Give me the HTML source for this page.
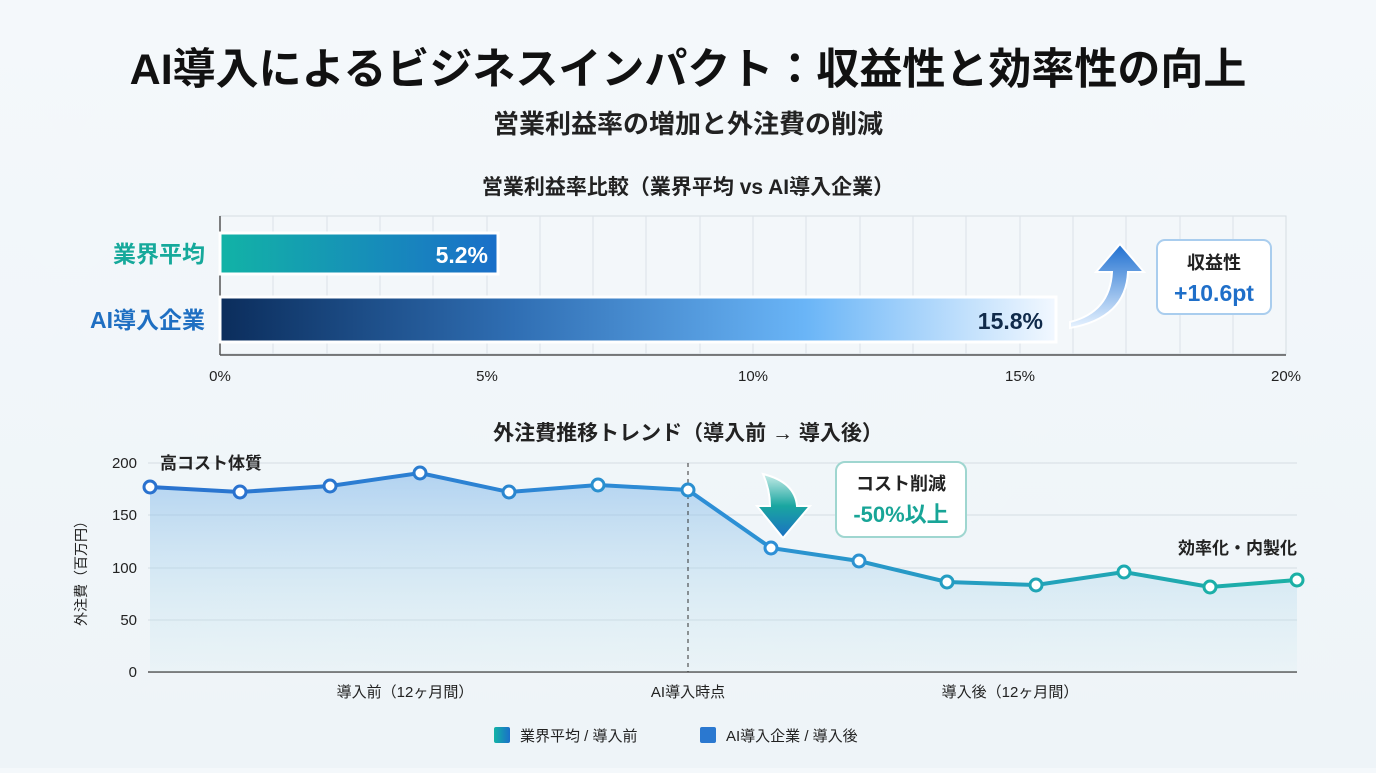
<!DOCTYPE html>
<html><head><meta charset="utf-8">
<style>
body{margin:0;width:1376px;height:768px;overflow:hidden;background:linear-gradient(180deg,#f4f8fb,#eef4f8);font-family:"Liberation Sans","Noto Sans CJK JP",sans-serif;}
</style></head><body>
<svg width="1376" height="768" xmlns="http://www.w3.org/2000/svg" font-family="Liberation Sans, Noto Sans CJK JP, sans-serif">
<defs>
<linearGradient id="g1" x1="0" x2="1"><stop offset="0" stop-color="#12b3a6"/><stop offset="1" stop-color="#1a6fc9"/></linearGradient>
<linearGradient id="g2" x1="0" x2="1"><stop offset="0" stop-color="#0b2d5c"/><stop offset="0.35" stop-color="#2f6eb3"/><stop offset="0.7" stop-color="#6ab5f7"/><stop offset="1" stop-color="#f2f8ff"/></linearGradient>
<linearGradient id="ln" x1="0" x2="1"><stop offset="0" stop-color="#2a72cf"/><stop offset="0.5" stop-color="#2d8fd6"/><stop offset="1" stop-color="#1bb0a5"/></linearGradient>
<linearGradient id="ar" x1="0" x2="1"><stop offset="0" stop-color="#2a72cf"/><stop offset="1" stop-color="#1bb0a5"/></linearGradient>
<linearGradient id="area" x1="0" y1="0" x2="0" y2="1"><stop offset="0" stop-color="#7fb6ea" stop-opacity="0.55"/><stop offset="1" stop-color="#bfe6ea" stop-opacity="0.1"/></linearGradient>
<linearGradient id="up" x1="0" y1="1" x2="0" y2="0"><stop offset="0" stop-color="#e8f3ff"/><stop offset="1" stop-color="#1e6fd0"/></linearGradient>
<linearGradient id="dn" x1="0" y1="0" x2="0" y2="1"><stop offset="0" stop-color="#c8ece8"/><stop offset="0.5" stop-color="#1aa6a0"/><stop offset="1" stop-color="#1b6fc4"/></linearGradient>
</defs>
<text x="688" y="84" text-anchor="middle" font-size="43" font-weight="bold" fill="#111">AI導入によるビジネスインパクト：収益性と効率性の向上</text>
<text x="688" y="133" text-anchor="middle" font-size="26" font-weight="bold" fill="#222">営業利益率の増加と外注費の削減</text>
<text x="688" y="194" text-anchor="middle" font-size="21" font-weight="bold" fill="#222">営業利益率比較（業界平均 vs AI導入企業）</text>
<rect x="220" y="216" width="1066" height="138" fill="#f3f7fa" stroke="#d5dde3"/>
<g stroke="#dbe2e8" stroke-width="1">
<line x1="273" y1="216" x2="273" y2="354"/><line x1="327" y1="216" x2="327" y2="354"/><line x1="380" y1="216" x2="380" y2="354"/><line x1="433" y1="216" x2="433" y2="354"/><line x1="487" y1="216" x2="487" y2="354"/><line x1="540" y1="216" x2="540" y2="354"/><line x1="593" y1="216" x2="593" y2="354"/><line x1="646" y1="216" x2="646" y2="354"/><line x1="700" y1="216" x2="700" y2="354"/><line x1="753" y1="216" x2="753" y2="354"/><line x1="806" y1="216" x2="806" y2="354"/><line x1="860" y1="216" x2="860" y2="354"/><line x1="913" y1="216" x2="913" y2="354"/><line x1="966" y1="216" x2="966" y2="354"/><line x1="1020" y1="216" x2="1020" y2="354"/><line x1="1073" y1="216" x2="1073" y2="354"/><line x1="1126" y1="216" x2="1126" y2="354"/><line x1="1180" y1="216" x2="1180" y2="354"/><line x1="1233" y1="216" x2="1233" y2="354"/>
</g>
<line x1="220" y1="216" x2="220" y2="355" stroke="#555" stroke-width="1.5"/>
<line x1="220" y1="355" x2="1286" y2="355" stroke="#555" stroke-width="1.5"/>
<rect x="220" y="233" width="278" height="41" fill="url(#g1)" stroke="#fff" stroke-width="3"/>
<text x="488" y="263" text-anchor="end" font-size="23" font-weight="bold" fill="#fff">5.2%</text>
<rect x="220" y="297" width="836" height="45" fill="url(#g2)" stroke="#fff" stroke-width="3"/>
<text x="1043" y="329" text-anchor="end" font-size="23" font-weight="bold" fill="#102a4a">15.8%</text>
<text x="205" y="262" text-anchor="end" font-size="23" font-weight="bold" fill="#16a99b">業界平均</text>
<text x="205" y="328" text-anchor="end" font-size="23" font-weight="bold" fill="#1f6fc2">AI導入企業</text>
<g font-size="15" fill="#222" text-anchor="middle">
<text x="220" y="381">0%</text><text x="487" y="381">5%</text><text x="753" y="381">10%</text><text x="1020" y="381">15%</text><text x="1286" y="381">20%</text></g>
<path d="M1070 322 Q1110 312 1112 272 L1096 272 L1120 244 L1144 272 L1128 272 Q1126 318 1070 328 Z" fill="url(#up)" stroke="#fff" stroke-width="2"/>
<rect x="1157" y="240" width="114" height="74" rx="8" fill="#fff" stroke="#a9cdee" stroke-width="2"/>
<text x="1214" y="269" text-anchor="middle" font-size="18" font-weight="bold" fill="#222">収益性</text>
<text x="1214" y="301" text-anchor="middle" font-size="23" font-weight="bold" fill="#1f6fc9">+10.6pt</text>
<text x="688" y="440" text-anchor="middle" font-size="21" font-weight="bold" fill="#222">外注費推移トレンド（導入前 → 導入後）</text>
<g stroke="#d5dde3"><line x1="148" y1="463" x2="1297" y2="463"/><line x1="148" y1="515" x2="1297" y2="515"/><line x1="148" y1="568" x2="1297" y2="568"/><line x1="148" y1="620" x2="1297" y2="620"/></g>
<line x1="148" y1="672" x2="1297" y2="672" stroke="#555" stroke-width="1.5"/>
<g font-size="15" fill="#222" text-anchor="end"><text x="137" y="468">200</text><text x="137" y="520">150</text><text x="137" y="573">100</text><text x="137" y="625">50</text><text x="137" y="677">0</text></g>
<text transform="translate(86,570) rotate(-90)" text-anchor="middle" font-size="14" fill="#222">外注費（百万円）</text>
<path d="M150 487 L240 492 L330 486 L420 473 L509 492 L598 485 L688 490 L771 548 L859 561 L947 582 L1036 585 L1124 572 L1210 587 L1297 580 L1297 672 L150 672 Z" fill="url(#area)"/>
<line x1="688" y1="463" x2="688" y2="672" stroke="#333" stroke-dasharray="4,4"/>
<polyline points="150,487 240,492 330,486 420,473 509,492 598,485 688,490 771,548 859,561 947,582 1036,585 1124,572 1210,587 1297,580" fill="none" stroke="url(#ln)" stroke-width="4"/>
<g fill="#fff" stroke-width="3">
<circle cx="150" cy="487" r="6" stroke="#2a72cf"/><circle cx="240" cy="492" r="6" stroke="#2a72cf"/><circle cx="330" cy="486" r="6" stroke="#2a76cf"/><circle cx="420" cy="473" r="6" stroke="#2a7ccf"/><circle cx="509" cy="492" r="6" stroke="#2a86cf"/><circle cx="598" cy="485" r="6" stroke="#2a90cf"/><circle cx="688" cy="490" r="6" stroke="#2a8fd0"/><circle cx="771" cy="548" r="6" stroke="#2d8fd6"/><circle cx="859" cy="561" r="6" stroke="#2d92d0"/><circle cx="947" cy="582" r="6" stroke="#249dc2"/><circle cx="1036" cy="585" r="6" stroke="#1fa5b5"/><circle cx="1124" cy="572" r="6" stroke="#1caab0"/><circle cx="1210" cy="587" r="6" stroke="#1bafa8"/><circle cx="1297" cy="580" r="6" stroke="#1bb0a5"/></g>
<text x="160" y="469" font-size="17" font-weight="bold" fill="#222">高コスト体質</text>
<text x="1297" y="554" text-anchor="end" font-size="17" font-weight="bold" fill="#222">効率化・内製化</text>
<path d="M763 474 Q795 482 797 506 L810 506 L783 538 L757 506 L770 506 Q770 490 763 474 Z" fill="url(#dn)" stroke="#fff" stroke-width="2"/>
<rect x="836" y="462" width="130" height="75" rx="9" fill="#fff" stroke="#9fd6d0" stroke-width="2"/>
<text x="901" y="490" text-anchor="middle" font-size="18" font-weight="bold" fill="#222">コスト削減</text>
<text x="901" y="522" text-anchor="middle" font-size="22" font-weight="bold" fill="#18a597">-50%以上</text>
<g font-size="15" fill="#222" text-anchor="middle"><text x="405" y="697">導入前（12ヶ月間）</text><text x="688" y="697">AI導入時点</text><text x="1010" y="697">導入後（12ヶ月間）</text></g>
<rect x="494" y="727" width="16" height="16" rx="2" fill="url(#g1)"/>
<text x="520" y="741" font-size="15" fill="#222">業界平均 / 導入前</text>
<rect x="700" y="727" width="16" height="16" rx="2" fill="url(#ar)" style="fill:#2a78d0"/>
<text x="726" y="741" font-size="15" fill="#222">AI導入企業 / 導入後</text>
</svg>
</body></html>
